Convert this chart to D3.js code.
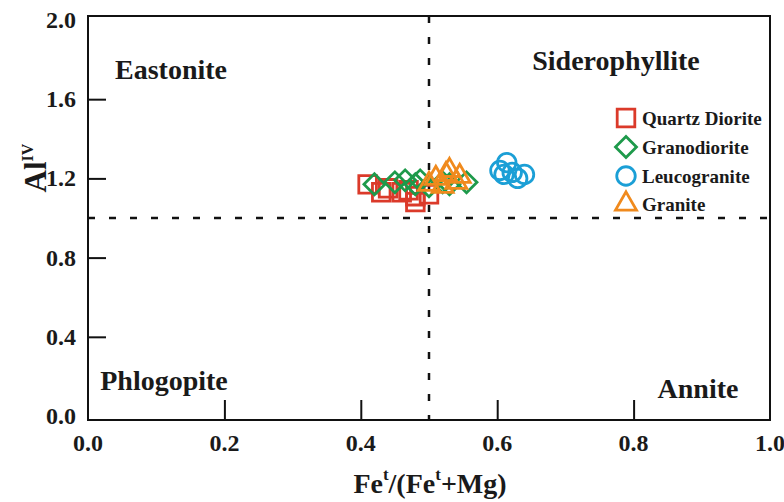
<!DOCTYPE html>
<html>
<head>
<meta charset="utf-8">
<script src="https://cdn.jsdelivr.net/npm/d3@7"></script>
<style>
  body { margin: 0; background: #fff; }
  text { font-family: "Liberation Serif", "Times New Roman", serif; font-weight: bold; fill: #1a1a1a; }
</style>
</head>
<body>
<div id="chart"></div>
<script>
// series values
const seriesNames = ["Quartz Diorite", "Granodiorite", "Leucogranite", "Granite"]
const quartzDioriteX = [0.41, 0.43, 0.44, 0.46, 0.47, 0.48, 0.50, 0.48]
const quartzDioriteY = [1.17, 1.13, 1.15, 1.13, 1.14, 1.11, 1.12, 1.08]
const granodioriteX = [0.42, 0.45, 0.465, 0.48, 0.487, 0.50, 0.52, 0.53, 0.555]
const granodioriteY = [1.17, 1.18, 1.19, 1.17, 1.19, 1.16, 1.18, 1.17, 1.18]
const leucograniteX = [0.604, 0.614, 0.622, 0.63, 0.64, 0.61]
const leucograniteY = [1.24, 1.28, 1.23, 1.20, 1.22, 1.22]
const graniteX = [0.50, 0.51, 0.52, 0.525, 0.53, 0.54, 0.545]
const graniteY = [1.17, 1.20, 1.16, 1.22, 1.24, 1.18, 1.21]
const xTicks = [0.0, 0.2, 0.4, 0.6, 0.8, 1.0]
const yTicks = [0.0, 0.4, 0.8, 1.2, 1.6, 2.0]
const fieldNames = ["Eastonite", "Siderophyllite", "Phlogopite", "Annite"]

const width = 784, height = 502
const svg = d3.select("#chart").append("svg")
    .attr("width", width)
    .attr("height", height)

let x = d3.scaleLinear().domain([0, 1]).range([88, 770])
let y = d3.scaleLinear().domain([-0.02, 2.02]).range([420, 16])

// Dashed boundaries
svg.append("line")
    .attr("x1", x(0.5)).attr("x2", x(0.5))
    .attr("y1", y(2.02)).attr("y2", y(-0.02))
    .attr("stroke", "#111").attr("stroke-width", 2.5)
    .attr("stroke-dasharray", "7,14")
svg.append("line")
    .attr("x1", x(0)).attr("x2", x(1))
    .attr("y1", y(1.0)).attr("y2", y(1.0))
    .attr("stroke", "#111").attr("stroke-width", 2.5)
    .attr("stroke-dasharray", "7,14")

// Axes, ticks inward
let xAxis = d3.axisBottom(x).tickValues(xTicks.slice(1, -1)).tickSize(-20).tickFormat("")
svg.append("g").attr("transform", `translate(0,${y(-0.02)})`).call(xAxis)
let yAxis = d3.axisLeft(y).tickValues(yTicks.slice(1, -1)).tickSize(-18).tickFormat("")
svg.append("g").attr("transform", `translate(${x(0)},0)`).call(yAxis)
svg.selectAll(".tick line").attr("stroke", "#111").attr("stroke-width", 2)
svg.selectAll(".domain").remove()

svg.append("rect")
    .attr("x", x(0)).attr("y", y(2.02))
    .attr("width", x(1) - x(0)).attr("height", y(-0.02) - y(2.02))
    .attr("fill", "none").attr("stroke", "#111").attr("stroke-width", 2)

// Tick labels
svg.append("g").selectAll("text").data(xTicks).enter().append("text")
    .attr("x", d => x(d)).attr("y", 451)
    .attr("text-anchor", "middle").style("font-size", "24px")
    .text(d => d.toFixed(1))
svg.append("g").selectAll("text").data(yTicks).enter().append("text")
    .attr("x", 76).attr("y", d => y(d) + 8)
    .attr("text-anchor", "end").style("font-size", "24px")
    .text(d => d.toFixed(1))

// Axis titles
let xt = svg.append("text").attr("x", 430).attr("y", 493)
    .attr("text-anchor", "middle").style("font-size", "28px")
xt.append("tspan").text("Fe")
xt.append("tspan").attr("dy", -13).style("font-size", "17px").text("t")
xt.append("tspan").attr("dy", 13).text("/(Fe")
xt.append("tspan").attr("dy", -13).style("font-size", "17px").text("t")
xt.append("tspan").attr("dy", 13).text("+Mg)")

let yt = svg.append("text")
    .attr("transform", "translate(46,168) rotate(-90)")
    .attr("text-anchor", "middle").style("font-size", "31px")
yt.append("tspan").text("Al")
yt.append("tspan").attr("dy", -13).style("font-size", "16px").text("IV")

// Field names
const fieldPos = [[171, 79, "middle"], [616, 70, "middle"], [164, 390, "middle"], [698, 398, "middle"]]
svg.append("g").selectAll("text").data(fieldNames).enter().append("text")
    .attr("x", (d, i) => fieldPos[i][0]).attr("y", (d, i) => fieldPos[i][1])
    .attr("text-anchor", (d, i) => fieldPos[i][2])
    .style("font-size", "28px")
    .text(d => d)

// Series
const colours = ["#db3a2a", "#1e9a4b", "#1b9fd6", "#f08a1d"]
const symbols = [
    d3.symbol().type(d3.symbolSquare).size(310),
    d3.symbol().type(d3.symbolSquare).size(220),
    d3.symbol().type(d3.symbolCircle).size(270),
    d3.symbol().type(d3.symbolTriangle).size(190)
]
const rotations = [0, 45, 0, 0]
const allX = [quartzDioriteX, granodioriteX, leucograniteX, graniteX]
const allY = [quartzDioriteY, granodioriteY, leucograniteY, graniteY]

seriesNames.forEach((name, s) => {
    let pts = allX[s].map((v, i) => ({x: v, y: allY[s][i]}))
    svg.append("g").selectAll("path").data(pts).enter().append("path")
        .attr("d", symbols[s])
        .attr("transform", d => `translate(${x(d.x)},${y(d.y)}) rotate(${rotations[s]})`)
        .attr("fill", "none")
        .attr("stroke", colours[s])
        .attr("stroke-width", 2.8)
})

// Legend
let legend = svg.append("g").attr("id", "legend")
const legendY = [118, 147, 176, 204]
seriesNames.forEach((name, s) => {
    legend.append("path")
        .attr("d", symbols[s])
        .attr("transform", `translate(626,${legendY[s]}) rotate(${rotations[s]})`)
        .attr("fill", "none").attr("stroke", colours[s]).attr("stroke-width", 2.8)
    legend.append("text")
        .attr("x", 642).attr("y", legendY[s] + 7)
        .style("font-size", "19px")
        .text(name)
})
</script>
</body>
</html>
